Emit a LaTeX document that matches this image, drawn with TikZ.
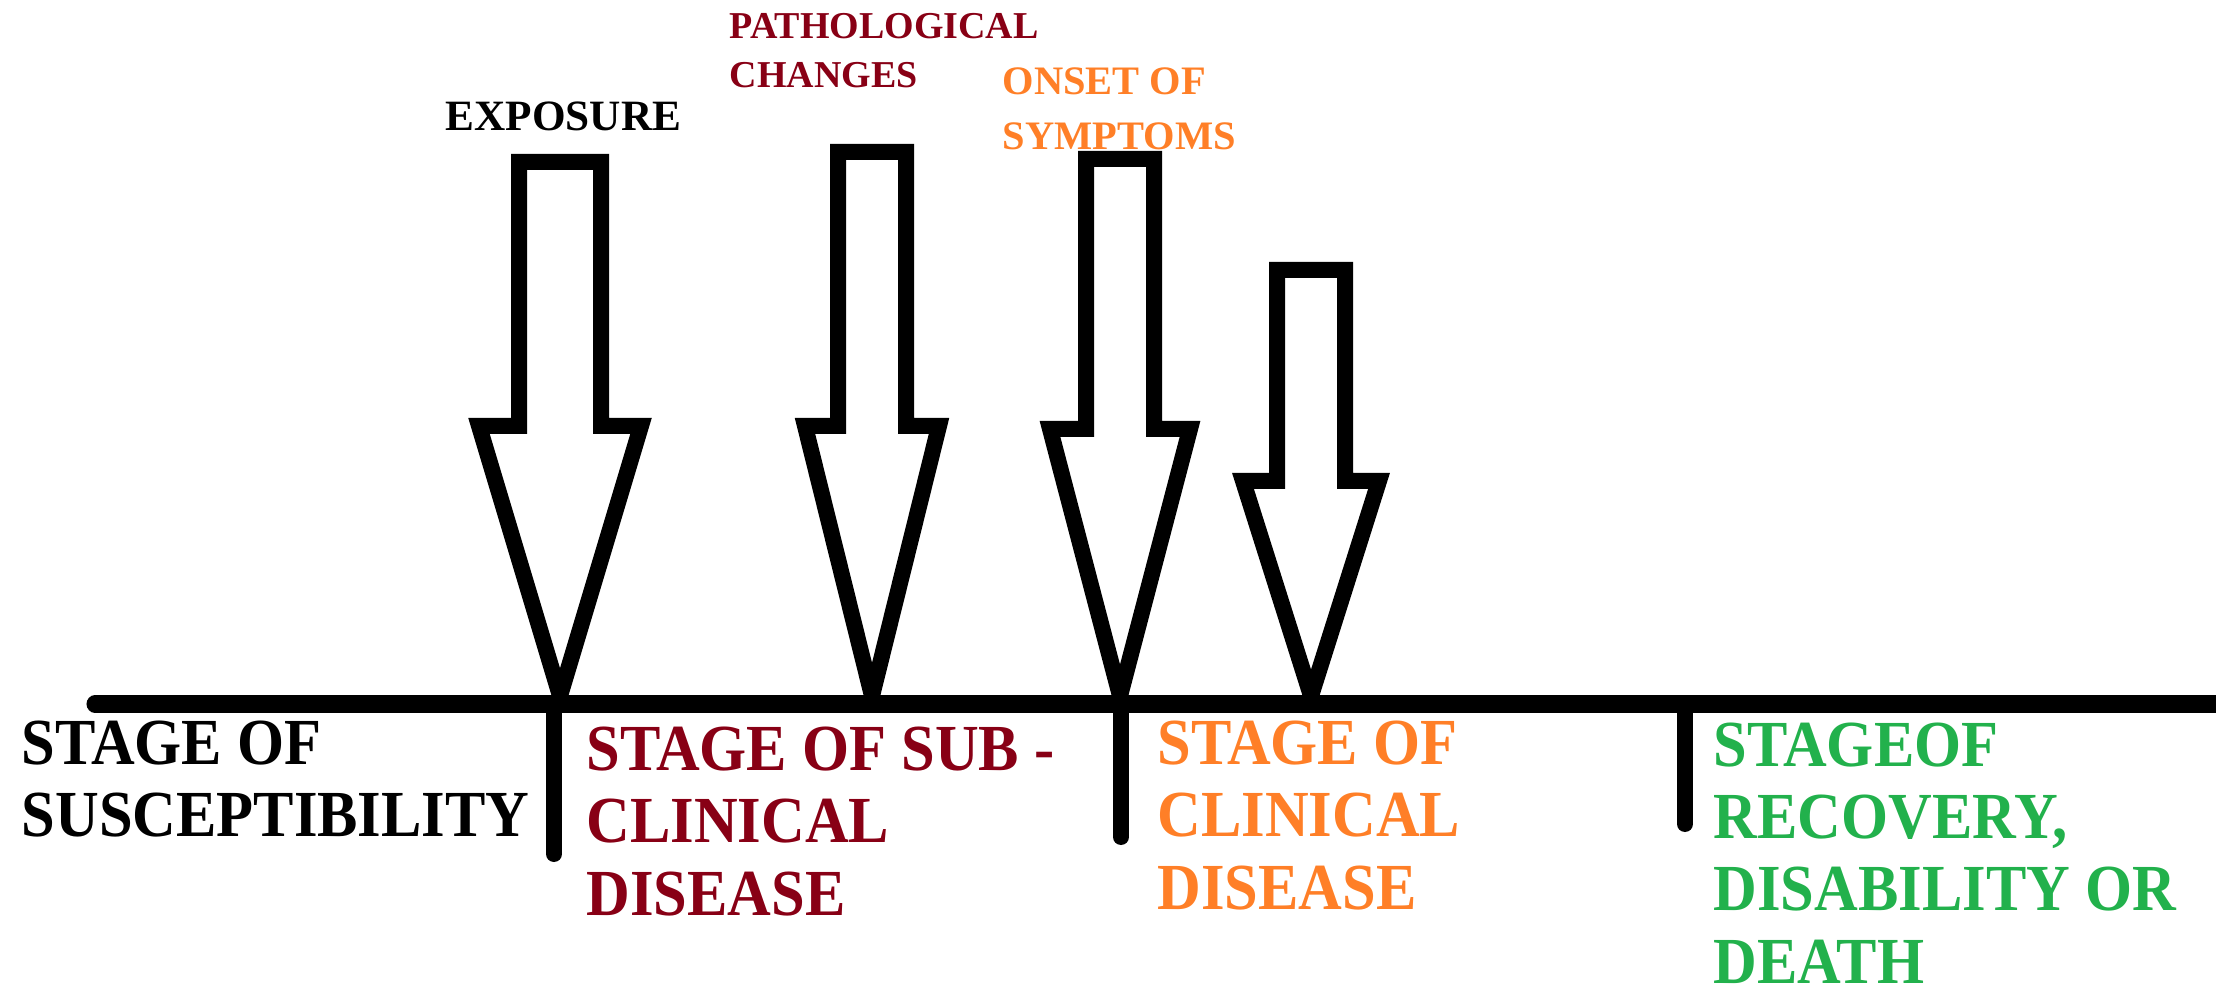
\documentclass[tikz,border=0pt]{standalone}
\usepackage{fontspec}
\setmainfont{Liberation Serif}
\newfontfamily\paintbig{Liberation Serif}[FakeStretch=0.92]
\usetikzlibrary{positioning}
\definecolor{maroon}{HTML}{880015}
\definecolor{paintorange}{HTML}{FF7F27}
\definecolor{paintgreen}{HTML}{22B14C}

\begin{document}
\begin{tikzpicture}[x=0.01cm,y=-0.01cm,
  stagetxt/.style={anchor=base west,inner sep=0pt,align=left,font=\paintbig\bfseries\fontsize{18.7}{20.5}\selectfont},
  marktxt/.style={anchor=base west,inner sep=0pt,align=left},
  blockarrow/.style={line width=4.55pt,line join=miter,miter limit=2}]
\useasboundingbox (0,0) rectangle (2216,986);
\draw[line width=4.84pt,line cap=round] (95,704)--(2230,704);
\foreach \x/\e in {554/854,1121/837,1685/824}{\draw[line width=4.55pt,line cap=round] (\x,704)--(\x,\e);}
\foreach \cx/\t/\sh/\w/\h in {560/162/426/41/81,872/152/426/34/67,1120/159/429/34/70,1311/270/481/34/68}{\draw[blockarrow] (\cx-\w,\t)--(\cx+\w,\t)--(\cx+\w,\sh)--(\cx+\h,\sh)--(\cx,696)--(\cx-\h,\sh)--(\cx-\w,\sh)--cycle;}
% last-line baselines
\node[marktxt,font=\bfseries\fontsize{12.3}{15}\selectfont] (expo) at (445,131) {EXPOSURE};
\node[marktxt,maroon,font=\bfseries\fontsize{10.8}{14.2}\selectfont] (patho) at (729,88) {PATHOLOGICAL\\CHANGES};
\node[marktxt,paintorange,font=\bfseries\fontsize{11.5}{15.9}\selectfont] (onset) at (1002,150) {ONSET OF\\SYMPTOMS};
\node[stagetxt] (suscep) at (21,837) {STAGE OF\\SUSCEPTIBILITY};
\node[stagetxt,maroon] (subclin) at (586,915) {STAGE OF SUB -\\CLINICAL\\DISEASE};
\node[stagetxt,paintorange] (clin) at (1157,909) {STAGE OF\\CLINICAL\\DISEASE};
\node[stagetxt,paintgreen] (recov) at (1713,983) {STAGEOF\\RECOVERY,\\DISABILITY OR\\DEATH};
\end{tikzpicture}
\end{document}
